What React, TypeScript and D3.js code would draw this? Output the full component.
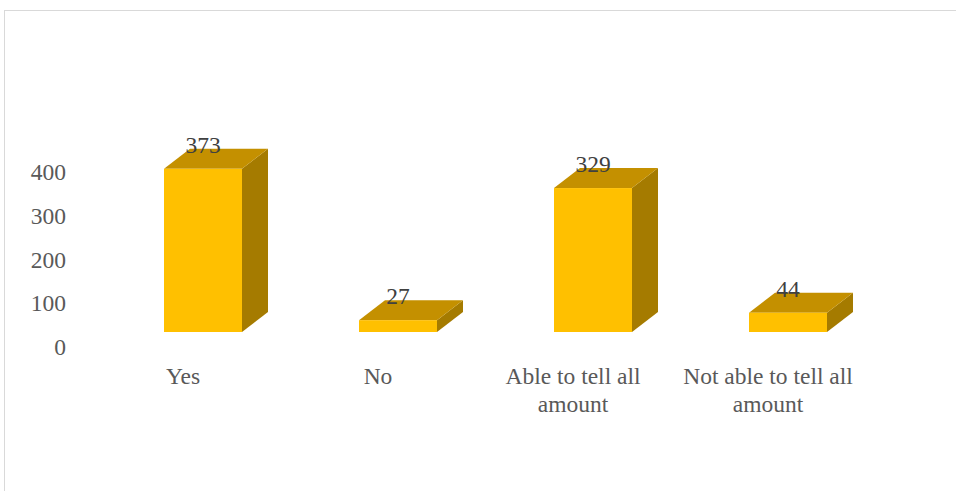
import React from "react";
import * as d3 from "d3";

const categories: string[][] = [["Yes"], ["No"], ["Able to tell all", "amount"], ["Not able to tell all", "amount"]];
const categoryKeys = ["Yes", "No", "Able", "NotAble"];
const values = [373, 27, 329, 44];
const yTicks = [0, 100, 200, 300, 400];

const W = 956;
const H = 491;
const DX = 26;
const DY = 20;

export default function App() {
  const x = d3.scaleBand<string>().domain(categoryKeys).range([105.5, 885.5]).paddingInner(0.6).paddingOuter(0.3);
  const y = d3.scaleLinear().domain([0, 400]).range([332, 157]);
  const bw = x.bandwidth();
  const font = "Liberation Serif, Times New Roman, DejaVu Serif, serif";
  const fs = 23.5;
  return (
    <svg width={W} height={H} style={{ position: "absolute", left: 0, top: 0 }}>
      <rect x={0} y={0} width={W} height={H} fill="#fff" />
      <rect x={4.5} y={10.5} width={1200} height={1200} fill="none" stroke="#d9d9d9" strokeWidth={1} />
      {yTicks.map((t) => (
        <text key={t} x={66} y={y(t) + 15} textAnchor="end" dominantBaseline="central" style={{ fontFamily: font }} fontSize={fs} fill="#595959">
          {t}
        </text>
      ))}
      {values.map((v, i) => {
        const x0 = x(categoryKeys[i])!;
        const x1 = x0 + bw;
        const yt = y(v);
        const yb = y(0);
        const top = `M${x0},${yt} L${x0 + DX},${yt - DY} L${x1 + DX},${yt - DY} L${x1},${yt} Z`;
        const side = `M${x1},${yt} L${x1 + DX},${yt - DY} L${x1 + DX},${yb - DY} L${x1},${yb} Z`;
        return (
          <g key={i}>
            <path d={side} fill="#a57b00" />
            <path d={top} fill="#c49000" />
            <rect x={x0} y={yt} width={bw} height={yb - yt} fill="#ffc000" />
            <text x={x0 + bw / 2} y={yt - DY + 4} textAnchor="middle" style={{ fontFamily: font }} fontSize={fs} fill="#404040">
              {v}
            </text>
          </g>
        );
      })}
      {categories.map((lines, i) => {
        const cx = x(categoryKeys[i])! + bw / 2 - 20;
        return (
          <text key={i} x={cx} textAnchor="middle" style={{ fontFamily: font }} fontSize={fs} fill="#595959">
            {lines.map((l, j) => (
              <tspan key={j} x={cx} y={384 + j * 28}>
                {l}
              </tspan>
            ))}
          </text>
        );
      })}
    </svg>
  );
}
